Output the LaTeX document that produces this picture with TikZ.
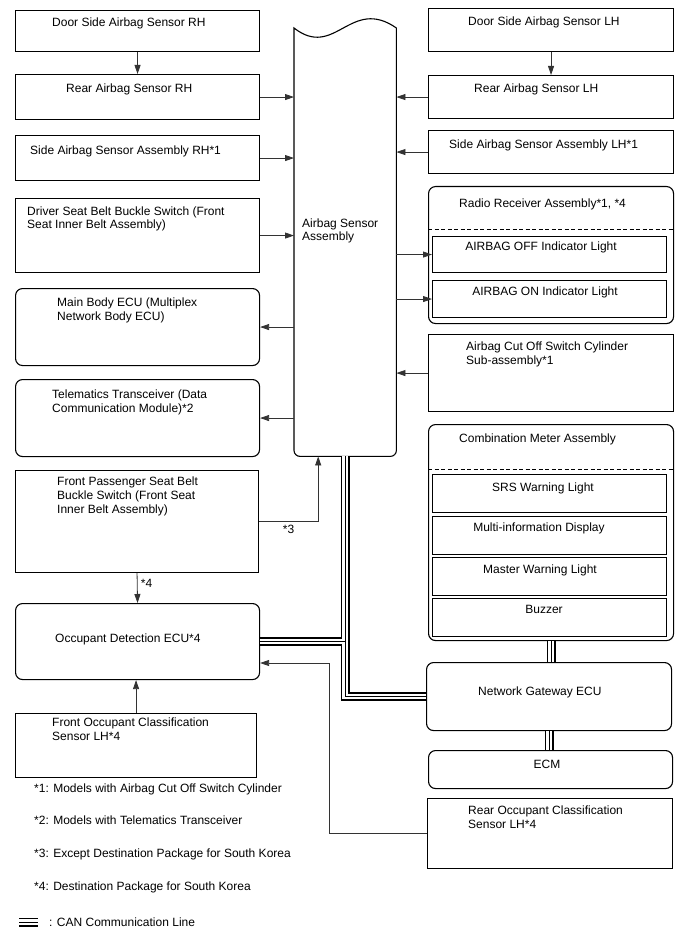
\documentclass[tikz,border=0pt]{standalone}
\usepackage{fontspec}
\setmainfont{Liberation Sans}
\usetikzlibrary{arrows.meta}

\tikzset{
  box/.style={draw, line width=1.1pt, anchor=north west, inner sep=0pt},
  rbox/.style={box, rounded corners=7pt},
  txt/.style={anchor=base west, inner sep=0pt, align=left},
  ctxt/.style={anchor=base, inner sep=0pt},
  conn/.style={draw=black!80, line width=0.8pt, -{Triangle[length=9pt,width=6pt]}},
  sepline/.style={line width=0.9pt, dash pattern=on 4pt off 2.5pt},
}

\begin{document}
\begin{tikzpicture}[x=1pt, y=-1pt, font=\fontsize{12}{13.8}\selectfont]
\useasboundingbox (0,0) rectangle (688,949);

% ---- left column ----
\node[box, minimum width=244pt, minimum height=41pt] (drs) at (15,10) {};
\node[box, minimum width=244pt, minimum height=45pt] (rrs) at (15,74) {};
\node[box, minimum width=244pt, minimum height=45pt] (sas) at (15,135) {};
\node[box, minimum width=244pt, minimum height=74pt] (dsb) at (15,198) {};
\node[rbox, minimum width=244pt, minimum height=77pt] (mbe) at (15,288) {};
\node[rbox, minimum width=244pt, minimum height=77pt] (tel) at (15,379) {};
\node[box, minimum width=243pt, minimum height=102pt] (fps) at (15,470) {};
\node[rbox, minimum width=244pt, minimum height=76pt] (odc) at (15,603) {};
\node[box, minimum width=241pt, minimum height=64pt] (foc) at (15,713) {};

% (multi-line texts: y is the baseline of the last line)
\node[txt] (drsT) at (52,27)  {Door Side Airbag Sensor RH};
\node[txt] (rrsT) at (66,93)  {Rear Airbag Sensor RH};
\node[txt] (sasT) at (30,155) {Side Airbag Sensor Assembly RH*1};
\node[txt] (dsbT) at (27,229) {Driver Seat Belt Buckle Switch (Front\\Seat Inner Belt Assembly)};
\node[txt] (mbeT) at (57,320) {Main Body ECU (Multiplex\\Network Body ECU)};
\node[txt] (telT) at (52,412) {Telematics Transceiver (Data\\Communication Module)*2};
\node[txt] (fpsT) at (57,513) {Front Passenger Seat Belt\\Buckle Switch (Front Seat\\Inner Belt Assembly)};
\node[txt] (odcT) at (55,642) {Occupant Detection ECU*4};
\node[txt] (focT) at (52,740) {Front Occupant Classification\\Sensor LH*4};

% ---- airbag sensor assembly (wavy top) ----
\node[minimum width=102pt, minimum height=428pt, anchor=north west, inner sep=0pt] (abg) at (294,28) {};
\draw[line width=1.1pt] (abg.north east) [rounded corners=6pt] -- (abg.south east) -- (abg.south west)
  [sharp corners] -- (abg.north west) .. controls +(41,32) and +(-46,-32) .. (abg.north east);
\node[txt] (abgT) at (302,241) {Airbag Sensor\\Assembly};

% ---- right column ----
\node[box, minimum width=245pt, minimum height=43pt] (dsl) at (428,8) {};
\node[box, minimum width=245pt, minimum height=43pt] (rrl) at (428,75) {};
\node[box, minimum width=245pt, minimum height=43pt] (sal) at (428,130) {};
\node[rbox, minimum width=245pt, minimum height=137pt] (rad) at (428,186) {};
\node[box, minimum width=234pt, minimum height=36pt] (aof) at (432,236) {};
\node[box, minimum width=234pt, minimum height=37pt] (aon) at (432,280) {};
\node[box, minimum width=245pt, minimum height=77pt] (cos) at (428,334) {};
\node[rbox, minimum width=245pt, minimum height=216pt] (cma) at (428,424) {};
\node[box, minimum width=234pt, minimum height=38pt] (srs) at (432,474) {};
\node[box, minimum width=234pt, minimum height=38pt] (mid) at (432,516) {};
\node[box, minimum width=234pt, minimum height=38pt] (mwl) at (432,557) {};
\node[box, minimum width=234pt, minimum height=38pt] (buz) at (432,598) {};
\node[rbox, minimum width=245pt, minimum height=68pt] (ngw) at (426,662) {};
\node[rbox, minimum width=244pt, minimum height=38pt] (ecm) at (428,750) {};
\node[box, minimum width=245pt, minimum height=70pt] (roc) at (427,798) {};

\draw[sepline] ([yshift=-43pt]rad.north west) -- ([yshift=-43pt]rad.north east);
\draw[sepline] ([yshift=-45pt]cma.north west) -- ([yshift=-45pt]cma.north east);

\node[txt] (dslT) at (468,26)  {Door Side Airbag Sensor LH};
\node[txt] (rrlT) at (474,93)  {Rear Airbag Sensor LH};
\node[txt] (salT) at (449,149) {Side Airbag Sensor Assembly LH*1};
\node[txt] (radT) at (459,208) {Radio Receiver Assembly*1, *4};
\node[ctxt] (aofT) at (541,251) {AIRBAG OFF Indicator Light};
\node[ctxt] (aonT) at (545,295) {AIRBAG ON Indicator Light};
\node[txt] (cosT) at (466,364) {Airbag Cut Off Switch Cylinder\\Sub-assembly*1};
\node[txt] (cmaT) at (459,442) {Combination Meter Assembly};
\node[ctxt] (srsT) at (543,491) {SRS Warning Light};
\node[ctxt] (midT) at (539,531) {Multi-information Display};
\node[ctxt] (mwlT) at (540,573) {Master Warning Light};
\node[ctxt] (buzT) at (544,613) {Buzzer};
\node[txt] (ngwT) at (478,695) {Network Gateway ECU};
\node[ctxt] (ecmT) at (547,768) {ECM};
\node[txt] (rocT) at (468,828) {Rear Occupant Classification\\Sensor LH*4};

% ---- footnotes and legend ----
\node[txt] (fn1) at (34,792) {*1: Models with Airbag Cut Off Switch Cylinder};
\node[txt] (fn2) at (34,824) {*2: Models with Telematics Transceiver};
\node[txt] (fn3) at (34,857) {*3: Except Destination Package for South Korea};
\node[txt] (fn4) at (34,890) {*4: Destination Package for South Korea};
\coordinate (legA) at (19,922);
\coordinate (legB) at (38,922);
\node[txt] (legT) at (49,926) {: CAN Communication Line};

% ---- signal lines ----
\draw[conn] (drs.south) -- (rrs.north);
\draw[conn] (rrs.east) -- (rrs.east -| abg.west);
\draw[conn] (sas.east) -- (sas.east -| abg.west);
\draw[conn] (dsb.east) -- (dsb.east -| abg.west);
\draw[conn] (mbe.east -| abg.west) -- (mbe.east);
\draw[conn] (tel.east -| abg.west) -- (tel.east);
\draw[conn] (fps.east) -| ([xshift=-27pt]abg.south) node[pos=0.25, below] (l3) {*3};
\draw[conn] (fps.south) -- (odc.north) node[pos=0.35, right] (l4) {*4};
\draw[conn] (foc.north) -- (foc.north |- odc.south);
\coordinate (rocbend) at (329,663);
\draw[conn] (roc.west) -| (rocbend) -- (rocbend -| odc.east);

\draw[conn] (dsl.south) -- (rrl.north);
\draw[conn] (rrl.west) -- (rrl.west -| abg.east);
\draw[conn] (sal.west) -- (sal.west -| abg.east);
\draw[conn] (aof.west -| abg.east) -- (aof.west);
\draw[conn] (aon.west -| abg.east) -- (aon.west);
\draw[conn] (cos.west) -- (cos.west -| abg.east);

% ---- CAN lines: outer, gap, core ----
\foreach \w/\c in {9pt/black, 5.6pt/white, 1pt/black} {
  \draw[line width=\w, draw=\c] (abg.south) |- (ngw.west);
  \draw[line width=\w, draw=\c] (odc.east) -- (odc.east -| abg.south);
  \draw[line width=\w, draw=\c] (cma.south) -- (cma.south |- ngw.north);
  \draw[line width=\w, draw=\c] (ngw.south) -- (ngw.south |- ecm.north);
  \draw[line width=\w, draw=\c] (legA) -- (legB);
}

\end{tikzpicture}
\end{document}
